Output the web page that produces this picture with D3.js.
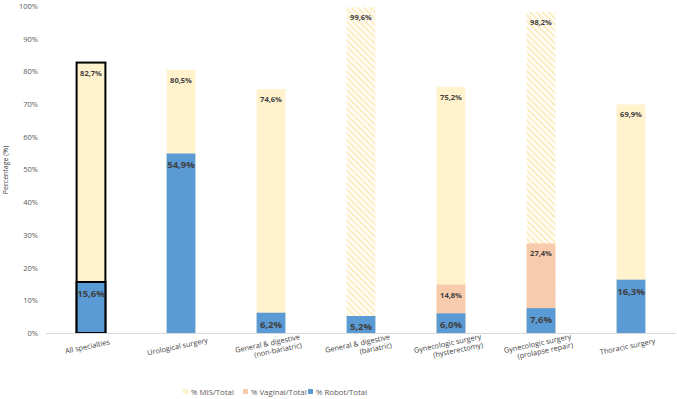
<!DOCTYPE html>
<meta charset="utf-8">
<script src="https://d3js.org/d3.v7.min.js"></script>
<style>
  body { margin: 0; background: #fff; }
  text { font-family: "Open Sans", "DejaVu Sans", sans-serif; }
</style>
<body>
<div id="chart"></div>
<script>
  // categories, each label may have two lines
  const categories = [
    ["All specialties"],
    ["Urological surgery"],
    ["General & digestive", "(non-bariatric)"],
    ["General & digestive", "(bariatric)"],
    ["Gynecologic surgery", "(hysterectomy)"],
    ["Gynecologic surgery", "(prolapse repair)"],
    ["Thoracic surgery"]
  ];
  const misTotal     = [82.7, 80.5, 74.6, 99.6, 75.2, 98.2, 69.9];
  const vaginalTotal = [null, null, null, null, 14.8, 27.4, null];
  const robotTotal   = [15.6, 54.9, 6.2, 5.2, 6.0, 7.6, 16.3];
  const hatched      = [false, false, false, true, false, true, false];
  const yTicks = [0, 10, 20, 30, 40, 50, 60, 70, 80, 90, 100];

  const W = 677, H = 399;
  const svg = d3.select("#chart").append("svg")
      .attr("width", W).attr("height", H);

  // hatch pattern for the MIS bars with stripes
  const defs = svg.append("defs");
  const pat = defs.append("pattern")
      .attr("id", "hatch")
      .attr("patternUnits", "userSpaceOnUse")
      .attr("width", 4.4).attr("height", 4.4)
      .attr("patternTransform", "rotate(-45)");
  pat.append("rect").attr("width", 4.4).attr("height", 4.4).attr("fill", "#fff");
  pat.append("rect").attr("width", 2.2).attr("height", 4.4).attr("fill", "#FDEDC2");

  const x = d3.scaleBand()
      .domain(d3.range(categories.length))
      .range([46, 676])
      .paddingInner(0.68)
      .paddingOuter(0.34);

  const y = d3.scaleLinear().domain([0, 100]).range([333, 6]);

  // y axis (labels only)
  const yAxis = svg.append("g")
      .attr("transform", "translate(41,0)")
      .call(d3.axisLeft(y).tickValues(yTicks).tickFormat(d => d + "%").tickSize(0).tickPadding(3));
  yAxis.select(".domain").remove();
  yAxis.selectAll("text")
      .attr("fill", "#595959")
      .style("font-size", "7.5px")
      .style("font-family", "'Open Sans', sans-serif");

  svg.append("text")
      .attr("transform", "translate(8,170) rotate(-90)")
      .attr("text-anchor", "middle")
      .attr("fill", "#404040")
      .style("font-size", "7px")
      .text("Percentage (%)");

  const bw = x.bandwidth();

  // MIS bars
  svg.append("g").selectAll("rect")
    .data(misTotal)
    .join("rect")
      .attr("x", (d, i) => x(i))
      .attr("y", d => y(d))
      .attr("width", bw)
      .attr("height", d => y(0) - y(d))
      .attr("fill", (d, i) => hatched[i] ? "url(#hatch)" : "#FFF2CC")
      .attr("stroke", (d, i) => i === 0 ? "#000" : "none")
      .attr("stroke-width", 2);

  // vaginal bars
  svg.append("g").selectAll("rect")
    .data(vaginalTotal.map((v, i) => ({v, i})).filter(d => d.v != null))
    .join("rect")
      .attr("x", d => x(d.i))
      .attr("y", d => y(d.v))
      .attr("width", bw)
      .attr("height", d => y(0) - y(d.v))
      .attr("fill", "#F8CBAD");

  // robot bars
  svg.append("g").selectAll("rect")
    .data(robotTotal)
    .join("rect")
      .attr("x", (d, i) => x(i))
      .attr("y", d => y(d))
      .attr("width", bw)
      .attr("height", d => y(0) - y(d))
      .attr("fill", "#5B9BD5")
      .attr("stroke", (d, i) => i === 0 ? "#000" : "none")
      .attr("stroke-width", 2);

  // baseline
  svg.append("line")
      .attr("x1", 46).attr("x2", 676)
      .attr("y1", y(0) + 0.5).attr("y2", y(0) + 0.5)
      .attr("stroke", "#D9D9D9");

  const fmt = v => v.toFixed(1).replace(".", ",") + "%";

  // value labels
  svg.append("g").selectAll("text")
    .data(misTotal)
    .join("text")
      .attr("x", (d, i) => x(i) + bw / 2)
      .attr("y", d => y(d) + 13)
      .attr("text-anchor", "middle")
      .attr("fill", "#404040")
      .style("font-size", "7.5px")
      .style("font-weight", "bold")
      .text(fmt);

  svg.append("g").selectAll("text")
    .data(vaginalTotal.map((v, i) => ({v, i})).filter(d => d.v != null))
    .join("text")
      .attr("x", d => x(d.i) + bw / 2)
      .attr("y", d => y(d.v) + 13)
      .attr("text-anchor", "middle")
      .attr("fill", "#404040")
      .style("font-size", "7.5px")
      .style("font-weight", "bold")
      .text(d => fmt(d.v));

  svg.append("g").selectAll("text")
    .data(robotTotal)
    .join("text")
      .attr("x", (d, i) => x(i) + bw / 2)
      .attr("y", d => Math.min(y(d) + 15, y(0) - 3))
      .attr("text-anchor", "middle")
      .attr("fill", "#404040")
      .style("font-size", "9.5px")
      .style("font-weight", "bold")
      .text(fmt);

  // category labels, slightly rotated; second line is end-aligned with the first
  const xg = svg.append("g").selectAll("g")
    .data(categories)
    .join("g")
      .attr("transform", (d, i) => `translate(${x(i) + bw / 2 - 3},${d.length > 1 ? 346 : 349}) rotate(-12)`);
  xg.each(function(lines) {
    const g = d3.select(this);
    const first = g.append("text")
        .attr("text-anchor", "middle")
        .attr("fill", "#404040")
        .style("font-size", "7.3px")
        .text(lines[0]);
    if (lines.length > 1) {
      const w = first.node().getComputedTextLength();
      g.append("text")
          .attr("x", w / 2)
          .attr("y", 8.5)
          .attr("text-anchor", "end")
          .attr("fill", "#404040")
          .style("font-size", "7.3px")
          .text(lines[1]);
    }
  });

  // legend
  const legendItems = [
    {label: "% MIS/Total", color: "#FFF2CC", x: 183},
    {label: "% Vaginal/Total", color: "#F8CBAD", x: 243},
    {label: "% Robot/Total", color: "#5B9BD5", x: 308}
  ];
  const lg = svg.append("g").selectAll("g")
    .data(legendItems)
    .join("g")
      .attr("transform", d => `translate(${d.x},389)`);
  lg.append("rect").attr("width", 5).attr("height", 5).attr("fill", d => d.color);
  lg.append("text")
      .attr("x", 8).attr("y", 5.5)
      .attr("fill", "#595959")
      .style("font-size", "7.8px")
      .text(d => d.label);
</script>
</body>
